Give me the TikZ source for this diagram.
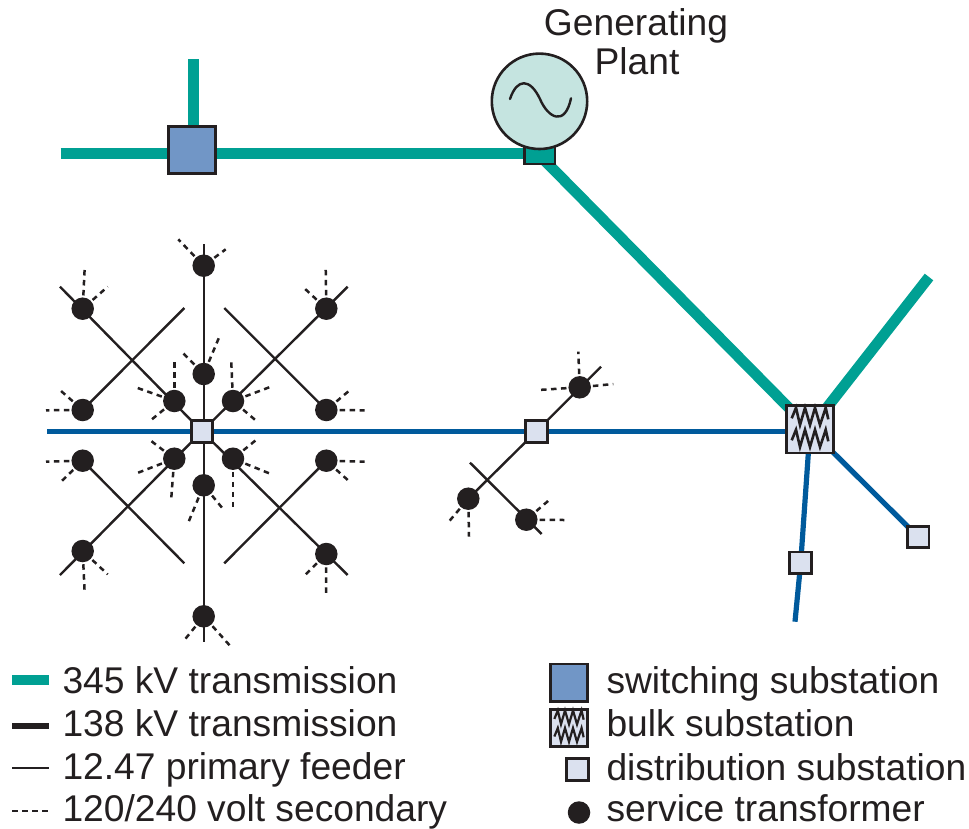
\documentclass[tikz,border=0pt]{standalone}
\usepackage{fontspec}
\setmainfont{Liberation Sans}
\definecolor{ink}{HTML}{231F20}
\definecolor{teal345}{HTML}{00A093}
\definecolor{blue138}{HTML}{005A9C}
\definecolor{switchfill}{HTML}{7196C6}
\definecolor{distfill}{HTML}{DBE1EF}
\definecolor{genfill}{HTML}{C5E4E0}
\pgfdeclarelayer{lines}
\pgfsetlayers{lines,main}
\tikzset{
  x=1pt,y=-1pt,
  sq/.style={draw=ink,line width=2.8pt,rectangle,inner sep=0pt,outer sep=0pt,minimum size=#1-2.8pt},
  switchsub/.style={sq=50pt,fill=switchfill},
  bulksub/.style={sq=50pt,fill=distfill},
  distsub/.style={sq=24.5pt,fill=distfill},
  xfmr/.style={circle,fill=ink,inner sep=0pt,outer sep=0pt,minimum size=22.5pt},
  hv/.style={draw=teal345,line width=10.8pt},
  hvb/.style={draw=blue138,line width=5.2pt},
  prim/.style={draw=ink,line width=2.4pt},
  sec/.style={draw=ink,line width=2.5pt,dash pattern=on 5.5pt off 4.5pt,shorten <=2pt},
  lab/.style={anchor=base west,inner sep=0pt,outer sep=0pt,text=ink,font=\fontsize{37.2}{40}\selectfont},
  zig/.pic={
    \foreach \d in {0,22}{
      \draw[ink,line width=#1,line join=miter,miter limit=10,yshift=-\d pt]
        (-18.3,-11) -- (-14,-21.6) -- (-10,-4.3) -- (-5,-21.6) -- (0,-4.3)
        -- (5,-21.6) -- (10,-4.3) -- (15.7,-21.6) -- (18.3,-10);
    }
  },
}
\begin{document}
\begin{tikzpicture}
\useasboundingbox (0,0) rectangle (969,828);
% generating plant
\node[draw=ink,line width=2.6pt,fill=teal345,rectangle,inner sep=0pt,outer sep=0pt,minimum width=30.5pt,minimum height=17pt] (foot) at (539.7,155.5) {};
\node[draw=ink,line width=2.6pt,fill=genfill,circle,inner sep=0pt,outer sep=0pt,minimum size=95.4pt] (gen) at (539.5,101.3) {};
\draw[ink,line width=2.4pt,line cap=round] (510,99) .. controls (517,78) and (530,78) .. (540,99) .. controls (548,118) and (565,127) .. (571,98.3);
\node[lab,anchor=base] (t1) at (636,35) {Generating};
\node[lab,anchor=base] (t2) at (637,74.5) {Plant};
% substations
\node[switchsub] (sw) at (192,149.7) {};
\node[bulksub] (bulk) at (810,429.3) {};
\pic at (bulk.center) {zig=2.6pt};
\node[distsub] (c) at (202,431.4) {};
\node[distsub] (s) at (536.3,431.4) {};
\node[distsub] (sd) at (800.7,562.8) {};
\node[distsub] (sr) at (918.2,537) {};
% free ends
\coordinate (hvL) at (60.7,153.5);
\coordinate (hvT) at (193.2,59);
\coordinate (hvR) at (929,277);
\coordinate (busL) at (47,431.4);
\coordinate (busR) at (790,431.4);
\coordinate (bd) at (795,621.7);
\coordinate (fT) at (203.7,244);
\coordinate (fB) at (203.7,641.7);
\coordinate (fNW) at (60,286.7);
\coordinate (fNE) at (347.7,286.7);
\coordinate (fSW) at (60,575);
\coordinate (fSE) at (347.7,575);
\coordinate (xNW) at (184.3,308);
\coordinate (xNE) at (224.3,308);
\coordinate (xSW) at (184.3,563.3);
\coordinate (xSE) at (224.3,563.3);
\coordinate (mNE) at (601,366.7);
\coordinate (mA) at (470,462.7);
\coordinate (mB) at (541.7,534);
\coordinate (cT) at (203.7,431.4);
% transformers
\foreach \n/\x/\y in {
  a/203.7/265.7, b/82.7/308.7, d/326.3/308.7, e/203.7/374, f/174.3/401, g/233/401,
  h/82.7/410, i/326.3/410, j/82.7/460.7, k/326.3/460.7, l/174.3/458.7, m/233/458.7,
  o/203.7/485.3, p/82.7/551, q/326.3/554, r/203.7/616.3,
  u/579.7/387.3, v/468.3/498.7, w/526.3/519.7}{
  \node[xfmr] (\n) at (\x,\y) {};
}
% legend
\coordinate (l1a) at (12,680); \coordinate (l1b) at (49,680);
\coordinate (l2a) at (12,725.7); \coordinate (l2b) at (49,725.7);
\coordinate (l3a) at (12,767.7); \coordinate (l3b) at (49,767.7);
\coordinate (l4a) at (12,810.7); \coordinate (l4b) at (49,810.7);
\node[lab] (n1) at (62.5,693.3) {345 kV transmission};
\node[lab] (n2) at (62.5,736.7) {138 kV transmission};
\node[lab] (n3) at (62.5,779.3) {12.47 primary feeder};
\node[lab] (n4) at (62.5,821.7) {120/240 volt secondary};
\node[sq=40pt,fill=switchfill] (k1) at (569,682.5) {};
\node[sq=40pt,fill=distfill] (k2) at (569,727.7) {};
\pic[scale=.8] at (k2.center) {zig=2.2pt};
\node[distsub] (k3) at (577.3,769.3) {};
\node[xfmr] (k4) at (579,812.5) {};
\node[lab] (r1) at (606.5,693.3) {switching substation};
\node[lab] (r2) at (606.5,736.7) {bulk substation};
\node[lab] (r3) at (606.5,780) {distribution substation};
\node[lab] (r4) at (606.5,821.7) {service transformer};
% connectors
\begin{pgfonlayer}{lines}
  \draw[hv] (hvL) -- (hvL -| foot.center);
  \draw[hv] (hvT) -- (hvT |- sw.center);
  \draw[hv] (foot.center) -- (bulk.center);
  \draw[hv] (hvR) -- (bulk.center);
  \draw[hvb] (busL) -- (c.center) -- (s.center) -- (busR);
  \draw[hvb] (bulk.center) -- (sd.center) -- (bd);
  \draw[hvb] (bulk.center) -- (sr.center);
  \draw[prim] (fT) -- (cT);
  \draw[prim] (cT) -- (fB);
  \draw[prim] (fNW) -- (c.center);
  \draw[prim] (fNE) -- (c.center);
  \draw[prim] (fSW) -- (c.center);
  \draw[prim] (fSE) -- (c.center);
  \draw[prim] (h.center) -- (xNW);
  \draw[prim] (i.center) -- (xNE);
  \draw[prim] (j.center) -- (xSW);
  \draw[prim] (k.center) -- (xSE);
  \draw[prim] (mNE) -- (s.center);
  \draw[prim] (s.center) -- (v.center);
  \draw[prim] (mA) -- (mB);
  \draw[hv,line width=10pt] (l1a) -- (l1b);
  \draw[ink,line width=6pt] (l2a) -- (l2b);
  \draw[prim] (l3a) -- (l3b);
  \draw[ink,line width=2pt,dash pattern=on 6pt off 4pt] (l4a) -- (l4b);
  \foreach \t/\x/\y [count=\q] in {
    a/178.3/239.3, a/225.7/249.3,
    b/84.7/267.7, b/107.7/286.7,
    d/325.7/267.7, d/302.7/286.7,
    e/183.3/353.3, e/218.7/338.3,
    f/174.3/362.3, f/134/386.7, f/149/421.7,
    g/231.3/362.3, g/272.7/386, g/257.3/421.7,
    h/46/410.3, h/60.7/390.7,
    i/364.7/410.3, i/350/390,
    j/46/461.7, j/60.7/482,
    k/364.7/461.7, k/350/482,
    l/149/439.3, l/134/474.3, l/171/501.7,
    m/257.3/439, m/272.7/474.7, m/233/509.3,
    o/223.3/509.3, o/187.7/524,
    p/84.7/593.3, p/107.7/574.3,
    q/326/595.7, q/302.7/577.3,
    r/185/639.3, r/232.3/648.3,
    u/578.3/351.7, u/538.3/390, u/613.3/384,
    v/448.3/522.3, v/469/536.7,
    w/550/499.3, w/564.3/520}{
    \coordinate (end\q) at (\x,\y);
    \draw[sec] (\t) -- (end\q);
  }
\end{pgfonlayer}
\end{tikzpicture}
\end{document}
